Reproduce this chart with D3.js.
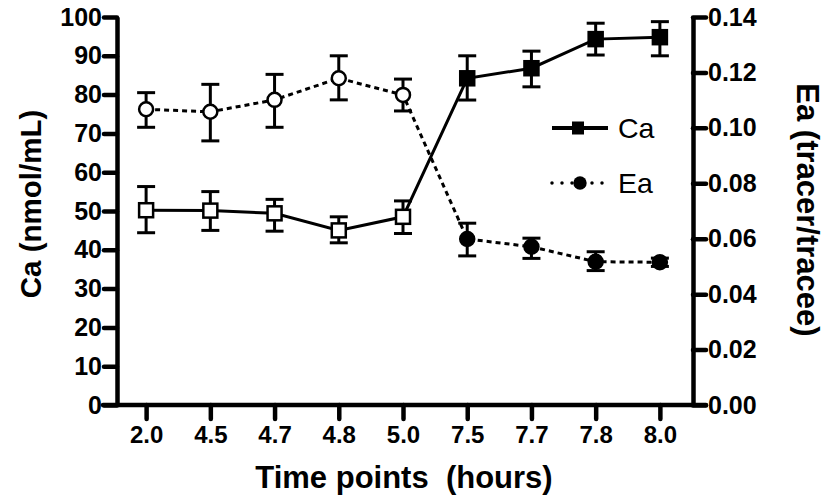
<!DOCTYPE html>
<html>
<head>
<meta charset="utf-8">
<script src="https://cdn.jsdelivr.net/npm/d3@7"></script>
<style>
  body { margin: 0; background: #fff; }
  svg { display: block; font-family: "Liberation Sans", Arial, sans-serif; }
  .axis text { font-weight: bold; font-size: 24px; fill: #000; }
  .axis.y text { font-size: 25px; }
  .axis path, .axis line { stroke: #000; stroke-width: 4.5; }
</style>
</head>
<body>
<div id="chart"></div>
<script>
// Time points (categorical x)
var timePoints = ["2.0", "4.5", "4.7", "4.8", "5.0", "7.5", "7.7", "7.8", "8.0"];
// Ca, nmol/mL (left axis): mean, upper and lower error bar ends
var caMean = [50.2, 50.1, 49.4, 45.0, 48.5, 84.2, 86.8, 94.3, 94.8];
var caHigh = [56.3, 55.0, 53.0, 48.5, 52.6, 90.0, 91.2, 98.4, 98.8];
var caLow  = [44.4, 45.0, 44.8, 41.8, 44.2, 78.6, 82.0, 90.2, 90.0];
// Ea, tracer/tracee (right axis)
var eaMean = [0.1067, 0.1058, 0.1101, 0.1179, 0.1119, 0.0599, 0.0571, 0.0517, 0.0515];
var eaHigh = [0.1127, 0.1157, 0.1193, 0.1260, 0.1176, 0.0656, 0.0602, 0.0553, 0.0530];
var eaLow  = [0.1002, 0.0953, 0.1002, 0.1101, 0.1061, 0.0538, 0.0529, 0.0485, 0.0500];
// first five time points drawn with open markers
var openCount = 5;
var leftTicks = [0, 10, 20, 30, 40, 50, 60, 70, 80, 90, 100];
var rightTicks = [0, 0.02, 0.04, 0.06, 0.08, 0.10, 0.12, 0.14];

var W = 827, H = 501;
var plotLeft = 117, plotRight = 693, plotTop = 17, plotBottom = 405;

var svg = d3.select("#chart").append("svg")
	.attr("width", W)
	.attr("height", H);

var x = d3.scalePoint()
	.domain(timePoints)
	.range([plotLeft - 3, plotRight - 1])
	.padding(0.5);
var yCa = d3.scaleLinear().domain([0, 100]).range([plotBottom, plotTop]);
var yEa = d3.scaleLinear().domain([0, 0.14]).range([plotBottom, plotTop]);

// Axes
svg.append("g")
	.attr("class", "axis y")
	.attr("transform", "translate(" + plotLeft + ",0)")
	.call(d3.axisLeft(yCa).tickValues(leftTicks).tickSize(13).tickSizeOuter(0).tickPadding(2))
	.selectAll("line").attr("stroke-linecap", "round");

svg.append("g")
	.attr("class", "axis y")
	.attr("transform", "translate(" + plotRight + ",0)")
	.call(d3.axisRight(yEa).tickValues(rightTicks).tickFormat(d3.format(".2f")).tickSize(13).tickSizeOuter(0).tickPadding(2))
	.selectAll("line").attr("stroke-linecap", "round");

var xAxis = svg.append("g")
	.attr("class", "axis")
	.attr("transform", "translate(0," + plotBottom + ")")
	.call(d3.axisBottom(x).tickSize(14).tickPadding(7));
xAxis.select(".domain").remove();
xAxis.selectAll("line").attr("stroke-linecap", "round");
xAxis.append("line")
	.attr("x1", plotLeft - 14).attr("x2", plotRight + 13)
	.attr("y1", 0).attr("y2", 0)
	.attr("stroke-linecap", "round");

// Axis titles
svg.append("text")
	.attr("x", 404)
	.attr("y", 488)
	.attr("text-anchor", "middle")
	.style("font-weight", "bold").style("font-size", "31px")
	.text("Time points\u00a0\u00a0(hours)");
svg.append("text")
	.attr("transform", "translate(41,204) rotate(-90)")
	.attr("text-anchor", "middle")
	.style("font-weight", "bold").style("font-size", "29.5px")
	.text("Ca (nmol/mL)");
svg.append("text")
	.attr("transform", "translate(797,210) rotate(90)")
	.attr("text-anchor", "middle")
	.style("font-weight", "bold").style("font-size", "31px")
	.text("Ea (tracer/tracee)");

// Lines
var caLine = d3.line().x(function(d, i){ return x(timePoints[i]); }).y(function(d){ return yCa(d); });
var eaLine = d3.line().x(function(d, i){ return x(timePoints[i]); }).y(function(d){ return yEa(d); });

svg.append("path")
	.attr("d", eaLine(eaMean))
	.attr("fill", "none").attr("stroke", "#000")
	.attr("stroke-width", 3).attr("stroke-dasharray", "5,4");
svg.append("path")
	.attr("d", caLine(caMean))
	.attr("fill", "none").attr("stroke", "#000")
	.attr("stroke-width", 3);

// Error bars
function errorBars(high, low, y){
	var g = svg.append("g").attr("stroke", "#000").attr("stroke-width", 3);
	timePoints.forEach(function(t, i){
		var cx = x(t);
		g.append("line").attr("x1", cx).attr("x2", cx).attr("y1", y(high[i])).attr("y2", y(low[i]));
		g.append("line").attr("x1", cx - 9).attr("x2", cx + 9).attr("y1", y(high[i])).attr("y2", y(high[i]));
		g.append("line").attr("x1", cx - 9).attr("x2", cx + 9).attr("y1", y(low[i])).attr("y2", y(low[i]));
	});
}
errorBars(eaHigh, eaLow, yEa);
errorBars(caHigh, caLow, yCa);

// Markers
svg.selectAll(".eaPt").data(eaMean).enter().append("circle")
	.attr("class", "eaPt")
	.attr("cx", function(d, i){ return x(timePoints[i]); })
	.attr("cy", function(d){ return yEa(d); })
	.attr("r", 7)
	.attr("fill", function(d, i){ return i < openCount ? "#fff" : "#000"; })
	.attr("stroke", "#000").attr("stroke-width", 2.5);

svg.selectAll(".caPt").data(caMean).enter().append("rect")
	.attr("class", "caPt")
	.attr("x", function(d, i){ return x(timePoints[i]) - 7; })
	.attr("y", function(d){ return yCa(d) - 7; })
	.attr("width", 14).attr("height", 14)
	.attr("fill", function(d, i){ return i < openCount ? "#fff" : "#000"; })
	.attr("stroke", "#000").attr("stroke-width", 2.5);

// Legend
var legend = svg.append("g").attr("transform", "translate(552,128)");
legend.append("line").attr("x1", 0).attr("x2", 56).attr("y1", 0).attr("y2", 0)
	.attr("stroke", "#000").attr("stroke-width", 4);
legend.append("rect").attr("x", 20).attr("y", -6.5).attr("width", 12).attr("height", 13).attr("fill", "#000");
legend.append("text").attr("x", 66).attr("y", 10).style("font-size", "28.5px").text("Ca");
legend.append("line").attr("x1", 0).attr("x2", 57).attr("y1", 55).attr("y2", 55)
	.attr("stroke", "#000").attr("stroke-width", 3.5).attr("stroke-dasharray", "0,10")
	.attr("stroke-linecap", "round");
legend.append("circle").attr("cx", 28).attr("cy", 55).attr("r", 6.7).attr("fill", "#000");
legend.append("text").attr("x", 66).attr("y", 64.5).style("font-size", "28.5px").text("Ea");
</script>
</body>
</html>
